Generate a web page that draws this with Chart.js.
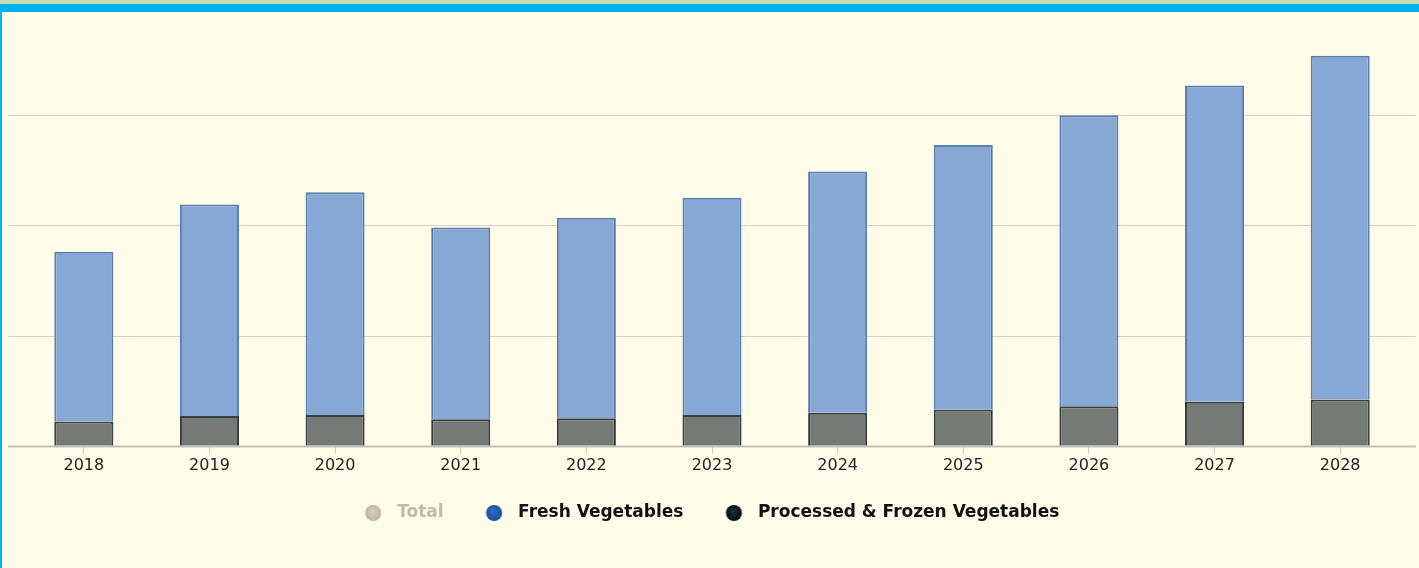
<!DOCTYPE html>
<html>
<head>
<meta charset="utf-8">
<script src="https://cdn.jsdelivr.net/npm/chart.js@4/dist/chart.umd.min.js"></script>
<style>
  html, body { margin: 0; padding: 0; background: #fffde9; }
  #wrap { position: relative; width: 1419px; height: 568px; overflow: hidden; background: #fffde9; }
  #c { position: absolute; left: 0; top: 0; }
  .bar { position: absolute; pointer-events: none; }
</style>
</head>
<body>
<div id="wrap">
  <canvas id="c" width="1419" height="568"></canvas>
  <div class="bar" style="left:0;top:0;width:1419px;height:4px;background:#c2e0b6;"></div>
  <div class="bar" style="left:0;top:4px;width:1419px;height:8px;background:#00b1ee;"></div>
  <div class="bar" style="left:0;top:12px;width:2px;height:556px;background:#00b1ee;"></div>
</div>
<script>
const categories = ['2018','2019','2020','2021','2022','2023','2024','2025','2026','2027','2028'];
const freshVegetables = [154, 192, 202, 174, 182, 197, 219, 240, 264, 287, 312];
const processedFrozen = [22, 27, 28, 24, 25, 28, 30, 33, 36, 40, 42];
const totalValues = [176, 219, 230, 198, 207, 225, 249, 273, 300, 327, 354];
const yTicks = [0, 100, 200, 300, 400];
const legendOrder = ['Total', 'Fresh Vegetables', 'Processed & Frozen Vegetables'];

const LEGEND_PAD = 42, LEGEND_FONT = 17, LEGEND_TEXT_Y = 513;

const wideGrid = {
  id: 'wideGrid',
  beforeDatasetsDraw(chart) {
    const ctx = chart.ctx, y = chart.scales.y;
    ctx.save();
    yTicks.forEach(v => {
      const py = Math.round(y.getPixelForValue(v)) + 0.5;
      ctx.beginPath();
      ctx.lineWidth = v === 0 ? 2 : 1;
      ctx.strokeStyle = v === 0 ? '#c4c0ba' : '#dacfc2';
      ctx.moveTo(8, py);
      ctx.lineTo(1416, py);
      ctx.stroke();
    });
    ctx.restore();
  }
};

const legendShift = {
  id: 'legendShift',
  afterLayout(chart) {
    const lg = chart.legend;
    if (!lg) return;
    const d = (lg.top + LEGEND_PAD + LEGEND_FONT / 2) - LEGEND_TEXT_Y;
    lg.top -= d;
    lg.bottom -= d;
  }
};

function makeDot(inner, outer) {
  const cv = document.createElement('canvas');
  cv.width = 30; cv.height = 18;
  const g = cv.getContext('2d');
  const cx = 11.5, cy = 9, r = 8;
  const grad = g.createRadialGradient(cx - 1, cy - 2, 1, cx, cy, r);
  grad.addColorStop(0, inner);
  grad.addColorStop(1, outer);
  g.fillStyle = grad;
  g.beginPath();
  g.arc(cx, cy, r, 0, Math.PI * 2);
  g.fill();
  return cv;
}

const legendStyles = {
  'Total': { dot: makeDot('#d6ccc1', '#bfb3a6'), text: '#c4b9ad' },
  'Fresh Vegetables': { dot: makeDot('#2f6fc4', '#184c98'), text: '#111111' },
  'Processed & Frozen Vegetables': { dot: makeDot('#1c2e38', '#050c10'), text: '#111111' }
};

new Chart(document.getElementById('c'), {
  type: 'bar',
  data: {
    labels: categories,
    datasets: [
      {
        type: 'line', label: 'Total', data: totalValues, hidden: true,
        borderColor: '#cdc2b6', backgroundColor: '#cdc2b6', stack: 'total'
      },
      {
        label: 'Processed & Frozen Vegetables', data: processedFrozen,
        backgroundColor: '#757a76', borderColor: '#343d40', borderWidth: 2,
        borderSkipped: 'bottom', stack: 'veg'
      },
      {
        label: 'Fresh Vegetables', data: freshVegetables,
        backgroundColor: '#87a8d4', borderColor: '#5b7eae', borderWidth: 2,
        borderSkipped: 'bottom', stack: 'veg'
      }
    ]
  },
  options: {
    responsive: false,
    animation: false,
    devicePixelRatio: 1,
    layout: { padding: { left: 21, right: 16, top: 2, bottom: 22 } },
    datasets: { bar: { categoryPercentage: 1, barPercentage: 0.47 } },
    scales: {
      x: {
        stacked: true,
        offset: true,
        border: { display: false },
        grid: { display: true, drawOnChartArea: false, drawTicks: true, tickLength: 8, offset: false, color: '#d3ccc4' },
        ticks: { color: '#222222', padding: 2, font: { family: 'DejaVu Sans', size: 16 } }
      },
      y: {
        display: false,
        stacked: true,
        min: 0, max: 400,
        ticks: { display: false, stepSize: 100 },
        grid: { display: false }
      }
    },
    plugins: {
      tooltip: { enabled: false },
      legend: {
        position: 'bottom',
        onClick: null,
        labels: {
          usePointStyle: true,
          pointStyleWidth: 24,
          boxHeight: 12,
          padding: LEGEND_PAD,
          font: { family: 'DejaVu Sans', size: LEGEND_FONT, weight: 'bold' },
          generateLabels(chart) {
            const items = Chart.defaults.plugins.legend.labels.generateLabels(chart);
            items.forEach(it => {
              const s = legendStyles[it.text];
              it.hidden = false;
              it.pointStyle = s.dot;
              it.fontColor = s.text;
              it.lineWidth = 0;
            });
            return items;
          },
          sort: (a, b) => legendOrder.indexOf(a.text) - legendOrder.indexOf(b.text)
        }
      }
    }
  },
  plugins: [wideGrid, legendShift]
});
</script>
</body>
</html>
